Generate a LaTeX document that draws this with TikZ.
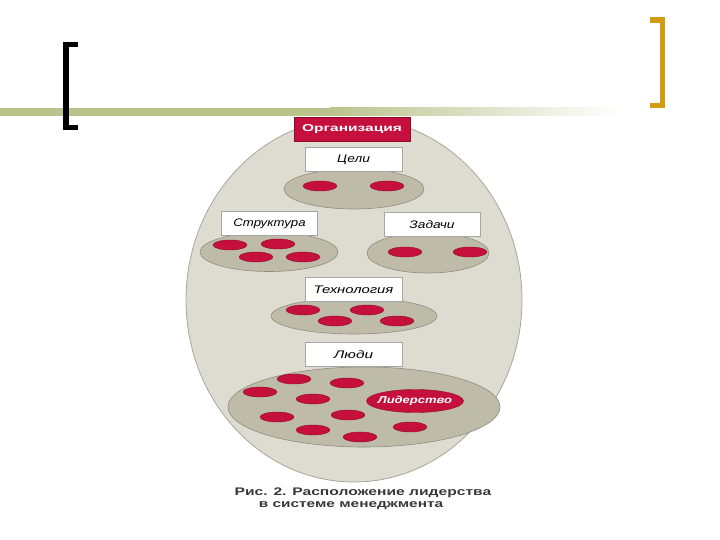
\documentclass[tikz,border=0pt]{standalone}
\usepackage{fontspec}
\usepackage{graphicx}
\setmainfont{Liberation Sans}
\usetikzlibrary{shapes.geometric}
\definecolor{crim}{HTML}{C50F3C}
\definecolor{crimdk}{HTML}{8E0A2A}
\definecolor{ovalfill}{HTML}{DEDBD0}
\definecolor{ovaldraw}{HTML}{A9A79C}
\definecolor{innerfill}{HTML}{BEBCA9}
\definecolor{innerdraw}{HTML}{8F8D80}
\definecolor{goldbr}{HTML}{D19C10}
\definecolor{olive}{HTML}{BAC38C}
\newcommand{\wide}[2]{\scalebox{#1}[1]{#2}}
\tikzset{
  bigoval/.style={ellipse, draw=ovaldraw, fill=ovalfill, line width=0.8pt},
  group/.style={ellipse, draw=innerdraw, fill=innerfill, line width=0.6pt},
  lbl/.style={rectangle, draw=gray!70, fill=white, line width=0.5pt, minimum width=97pt, minimum height=24pt, inner sep=0pt, font=\fontsize{11}{12}\selectfont\itshape},
  dot/.style={ellipse, fill=crim, draw=crimdk, line width=0.4pt, minimum width=34pt, minimum height=10pt, inner sep=0pt},
  titlebox/.style={rectangle, fill=crim, draw=crimdk, line width=0.5pt, minimum width=116pt, minimum height=24pt, inner sep=0pt, text=white, font=\fontsize{10}{11}\selectfont\bfseries},
  captxt/.style={text=black!78, inner sep=0pt, font=\fontsize{11}{12}\selectfont\bfseries}
}
\begin{document}
\begin{tikzpicture}[x=1pt,y=-1pt]
\useasboundingbox (0,0) rectangle (720,540);
% header decorations
\fill[olive] (0,108) rectangle (330,116);
\shade[left color=olive, right color=white] (330,108) rectangle (620,116);
\fill[black] (63,42) rectangle (69,130);
\fill[black] (63,42) rectangle (78,47);
\fill[black] (63,125) rectangle (78,130);
\fill[goldbr] (660,17) rectangle (665,108);
\fill[goldbr] (650,17) rectangle (665,23);
\fill[goldbr] (650,103) rectangle (665,108);
% big oval
\node[bigoval, minimum width=336pt, minimum height=364pt] (org) at (354,300) {};
\node[titlebox] (orgt) at (352,129.5) {\wide{1.55}{Организация}};
% groups
\node[group, minimum width=140pt, minimum height=40pt] (gc) at (354,189) {};
\node[group, minimum width=138pt, minimum height=39pt] (gs) at (269,252) {};
\node[group, minimum width=122pt, minimum height=40pt] (gz) at (428,253) {};
\node[group, minimum width=166pt, minimum height=36pt] (gt) at (354,316) {};
\node[group, minimum width=272pt, minimum height=80pt] (gl) at (364,407) {};
% labels
\node[lbl] (lc) at (353.5,159.5) {\wide{1.25}{Цели}};
\node[lbl, minimum width=96pt] (ls) at (269.5,223.5) {\wide{1.2}{Структура}};
\node[lbl, minimum width=96pt] (lz) at (432,224.5) {\wide{1.25}{Задачи}};
\node[lbl] (lt) at (353.5,289.5) {\wide{1.35}{Технология}};
\node[lbl] (ll) at (353.5,354.5) {\wide{1.4}{Люди}};
% dots
\node[dot] (c1) at (320,186) {};
\node[dot] (c2) at (387,186) {};
\node[dot] (s1) at (230,245) {};
\node[dot] (s2) at (278,244) {};
\node[dot] (s3) at (256,257) {};
\node[dot] (s4) at (303,257) {};
\node[dot] (z1) at (405,252) {};
\node[dot] (z2) at (470,252) {};
\node[dot] (t1) at (303,310) {};
\node[dot] (t2) at (367,310) {};
\node[dot] (t3) at (335,321) {};
\node[dot] (t4) at (397,321) {};
\node[dot] (p1) at (294,379) {};
\node[dot] (p2) at (347,383) {};
\node[dot] (p3) at (260,392) {};
\node[dot] (p4) at (313,399) {};
\node[dot] (p5) at (277,417) {};
\node[dot] (p6) at (348,415) {};
\node[dot] (p7) at (313,430) {};
\node[dot] (p8) at (360,437) {};
\node[dot] (p9) at (410,427) {};
\node[dot, minimum width=97pt, minimum height=23pt] (lead) at (415,401) {};
\node[text=white, inner sep=0pt, font=\fontsize{10}{11}\selectfont\bfseries\itshape] (leadt) at (lead.center) {\wide{1.3}{Лидерство}};
% caption
\node[captxt] (cap1) at (363,493) {\wide{1.42}{Рис. 2. Расположение лидерства}};
\node[captxt] (cap2) at (351,506) {\wide{1.4}{в системе менеджмента}};
\end{tikzpicture}
\end{document}
